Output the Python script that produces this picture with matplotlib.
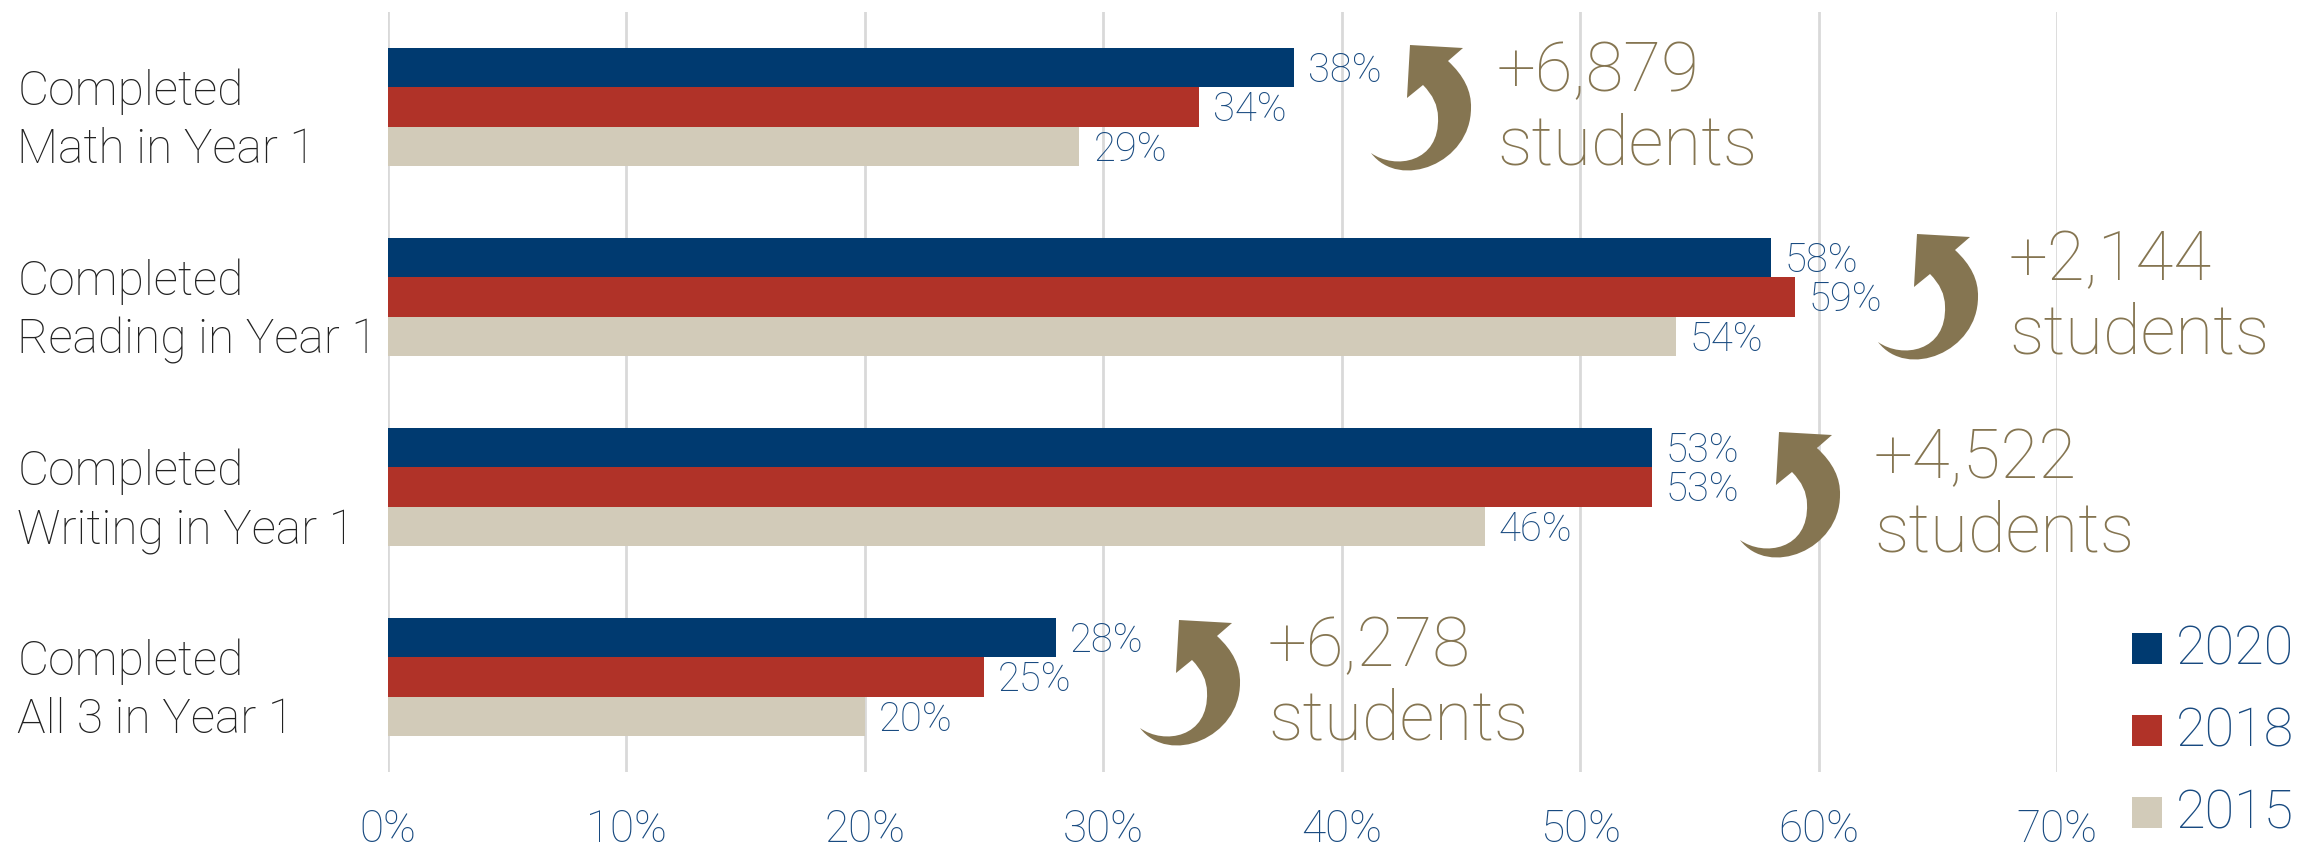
import matplotlib
matplotlib.use("Agg")
import matplotlib.pyplot as plt
from matplotlib import font_manager as fm
from matplotlib.path import Path
from matplotlib.patches import PathPatch, Rectangle
from matplotlib.transforms import Affine2D, ScaledTranslation

W, H = 2316, 850
categories = ["Completed\nMath in Year 1", "Completed\nReading in Year 1",
              "Completed\nWriting in Year 1", "Completed\nAll 3 in Year 1"]
years = ["2020", "2018", "2015"]
values_2020 = [38, 58, 53, 28]
values_2018 = [34, 59, 53, 25]
values_2015 = [29, 54, 46, 20]
gains = ["+6,879\nstudents", "+2,144\nstudents", "+4,522\nstudents", "+6,278\nstudents"]
xticks = [0, 10, 20, 30, 40, 50, 60, 70]

NAVY, RED, TAN, GOLD, BLUE = "#003A70", "#B03228", "#D2CBB9", "#857551", "#184A80"


def fp(px):
    return fm.FontProperties(family="Roboto", weight=250, size=px * 72 / 100)

fig = plt.figure(figsize=(W / 100, H / 100), dpi=100, facecolor="white")
ax = fig.add_axes([388 / W, (H - 772) / H, (2057 - 388) / W, 760 / H])
series = [values_2020, values_2018, values_2015]
cols = [NAVY, RED, TAN]
bh = 0.208
for i, (vals, c) in enumerate(zip(series, cols)):
    for j, v in enumerate(vals):
        y = j + (i - 1) * bh
        ax.barh(y, v, height=bh, color=c, zorder=3)
        ax.annotate(f"{v}%", (v, y), xytext=(10, -2), textcoords="offset points",
                    va="center", ha="left", color=BLUE, fontproperties=fp(40), zorder=4)
ax.set_xlim(0, 70)
ax.set_ylim(3.5, -0.5)
ax.set_xticks(xticks)
ax.set_xticklabels([f"{t}%" for t in xticks], color=BLUE, fontproperties=fp(44))
ax.set_yticks(range(4))
ax.set_yticklabels(categories, fontproperties=fp(48), color="#222222", ha="left", linespacing=1.32)
ax.tick_params(axis="y", length=0, pad=267)
ax.tick_params(axis="x", length=0, pad=26)
for lab in ax.get_yticklabels():
    lab.set_transform(lab.get_transform() + ScaledTranslation(0, -0.03, fig.dpi_scale_trans))
ax.grid(axis="x", color="#D9D9D9", lw=2, zorder=0)
for s in ax.spines.values():
    s.set_visible(False)

# decorative curved arrow, outline in px relative to its top-left tip
verts = [(0, 0), (53, 3), (38, 16),
         (62, 38), (61, 63),
         (61, 118), (-10, 146), (-39, 108),
         (-15, 125), (30, 118), (28, 72),
         (28, 55), (13, 40),
         (-3, 53), (0, 0)]
codes = [Path.MOVETO, Path.LINETO, Path.LINETO,
         Path.CURVE3, Path.CURVE3,
         Path.CURVE4, Path.CURVE4, Path.CURVE4,
         Path.CURVE4, Path.CURVE4, Path.CURVE4,
         Path.CURVE3, Path.CURVE3,
         Path.LINETO, Path.CLOSEPOLY]
arrow_at = [(1410, 45), (1917, 234), (1779, 432), (1179, 620)]
text_at = [(1497, 40), (2009, 229), (1874, 427), (1268, 615)]
for (ax_, ay_), (tx, ty), g in zip(arrow_at, text_at, gains):
    tr = Affine2D().scale(1, -1).translate(ax_, H - ay_)
    fig.add_artist(PathPatch(Path(verts, codes), fc=GOLD, ec="none", transform=tr))
    fig.text(tx / W, 1 - ty / H, g, color=GOLD, fontproperties=fp(69), va="top", ha="left", linespacing=1.14)

# legend
for (y, c, yr) in zip((649, 731, 813), cols, years):
    fig.add_artist(Rectangle((2132 / W, 1 - (y + 15) / H), 30 / W, 31 / H, fc=c, ec="none", transform=fig.transFigure))
    fig.text(2176 / W, 1 - (y + 1) / H, yr, color=BLUE, fontproperties=fp(54), va="center", ha="left")

fig.savefig("out.png", dpi=100)
